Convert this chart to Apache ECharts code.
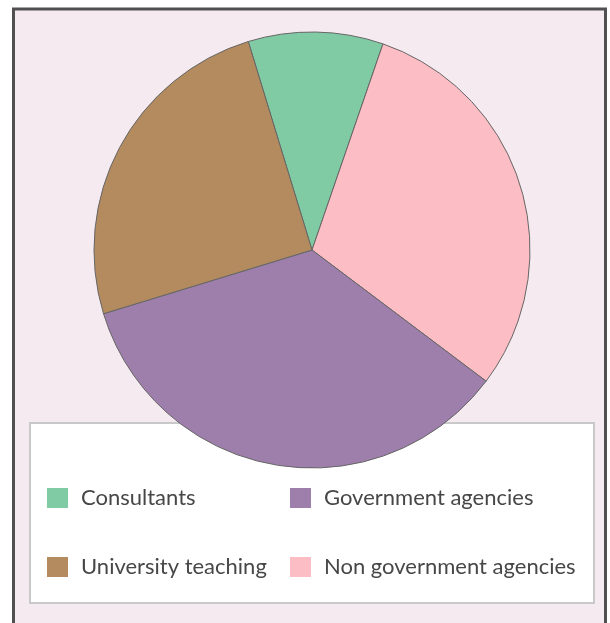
<!DOCTYPE html>
<html>
<head>
<meta charset="utf-8">
<script src="https://cdn.jsdelivr.net/npm/echarts@6/dist/echarts.min.js"></script>
<style>
  html, body { margin: 0; padding: 0; background: #ffffff; }
  #chart { width: 610px; height: 623px; }
</style>
</head>
<body>
<div id="chart"></div>
<script>
// Share of employment by sector (percent), listed clockwise from the top
const categories = ['Consultants', 'Non government agencies', 'Government agencies', 'University teaching'];
const shares = [10, 30, 35, 25];
const colors = ['#80cba4', '#fdbdc5', '#9e7fab', '#b38b5f'];

// Key entries in reading order: two columns, two rows
const legendOrder = ['Consultants', 'Government agencies', 'University teaching', 'Non government agencies'];

const chart = echarts.init(document.getElementById('chart'), null, { renderer: 'canvas' });

const colLeft = [47, 290];
const rowTop = [487, 556];

// One legend component per key entry so the entries sit on a fixed grid
const legends = legendOrder.map((name, i) => ({
  data: [name],
  orient: 'horizontal',
  left: colLeft[i % 2],
  top: rowTop[Math.floor(i / 2)],
  padding: 0,
  itemWidth: 21,
  itemHeight: 20,
  itemTextGap: 5,
  icon: 'rect',
  selectedMode: false,
  itemStyle: { borderWidth: 0 },
  textStyle: {
    fontFamily: 'Lato, sans-serif',
    fontSize: 22,
    color: '#474747',
    padding: [0, 0, 0, 8]
  },
  z: 6
}));

chart.setOption({
  backgroundColor: '#ffffff',
  animation: false,
  color: colors,
  graphic: [
    {
      type: 'rect',
      z: 0,
      shape: { x: 13.5, y: 9, width: 592, height: 630 },
      style: { fill: '#f4eaf0', stroke: '#505050', lineWidth: 3 }
    },
    {
      type: 'rect',
      z: 1,
      shape: { x: 30, y: 423, width: 564, height: 180 },
      style: { fill: '#ffffff', stroke: '#c9c9c9', lineWidth: 2 }
    }
  ],
  legend: legends,
  series: [
    {
      type: 'pie',
      z: 3,
      center: [312, 250],
      radius: 218,
      startAngle: 107,
      clockwise: true,
      silent: true,
      label: { show: false },
      labelLine: { show: false },
      itemStyle: { borderColor: '#666666', borderWidth: 1 },
      data: categories.map((name, i) => ({ name: name, value: shares[i] }))
    }
  ]
});
</script>
</body>
</html>
